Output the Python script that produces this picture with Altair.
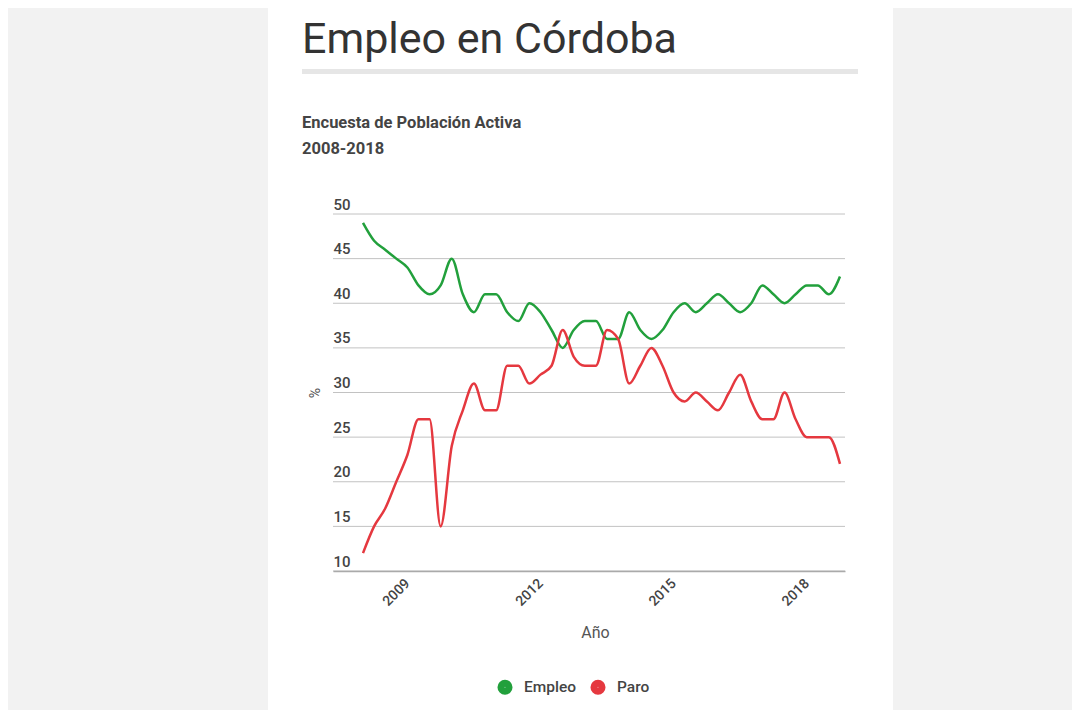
import altair as alt
import pandas as pd

years = list(range(2008, 2019))
quarters = [1, 2, 3, 4]
empleo = [49, 47, 46, 45, 44, 42, 41, 42, 45, 41, 39, 41, 41, 39, 38, 40, 39, 37, 35, 37, 38, 38,
          36, 36, 39, 37, 36, 37, 39, 40, 39, 40, 41, 40, 39, 40, 42, 41, 40, 41, 42, 42, 41, 43]
paro = [12, 15, 17, 20, 23, 27, 27, 15, 24, 28, 31, 28, 28, 33, 33, 31, 32, 33, 37, 34, 33, 33,
        37, 36, 31, 33, 35, 33, 30, 29, 30, 29, 28, 30, 32, 29, 27, 27, 30, 27, 25, 25, 25, 22]
series = ["Empleo", "Paro"]
colors = ["#22a03c", "#e5383f"]
y_ticks = [10, 15, 20, 25, 30, 35, 40, 45, 50]
x_ticks = [2009, 2012, 2015, 2018]

periods = [y + (q - 1) / 4 for y in years for q in quarters]
rows = []
for name, vals in zip(series, [empleo, paro]):
    for p, v in zip(periods, vals):
        rows.append({"periodo": p, "serie": name, "valor": v})
df = pd.DataFrame(rows)

W, H = 512, 357
xscale = alt.Scale(domain=[2007.324, 2018.863], nice=False, zero=False)
yscale = alt.Scale(domain=[10, 50], nice=False, zero=False)

xaxis = alt.Axis(values=x_ticks, format="d", labelAngle=-45, labelAlign="right",
                 labelBaseline="middle", labelPadding=10, ticks=False, grid=False,
                 domain=True, domainColor="#aaaaaa", domainWidth=1.5,
                 labelFont="Roboto", labelFontSize=14, labelFontWeight=500,
                 labelColor="#444444",
                 titleFont="Roboto", titleFontSize=16, titleFontWeight="normal",
                 titleColor="#555555", titlePadding=16, titleX=262, zindex=1)
yaxis = alt.Axis(values=y_ticks, grid=False, domain=False, ticks=False,
                 labelAlign="left", labelBaseline="bottom", labelPadding=0,
                 labelOffset=-2,
                 labelFont="Roboto", labelFontSize=15, labelFontWeight=500,
                 labelColor="#444444",
                 titleX=-18, titleY=H / 2, titleAngle=-90, titleAlign="center",
                 titleBaseline="middle", titleFont="Roboto", titleFontSize=14,
                 titleFontWeight="normal", titleColor="#555555", zindex=1)

one = alt.Data(values=[{}])
card = alt.Chart(one).mark_rect(color="white").encode(
    x=alt.value(-65), x2=alt.value(560), y=alt.value(-214), y2=alt.value(520))
bar = alt.Chart(one).mark_rect(color="#e6e6e6").encode(
    x=alt.value(-31), x2=alt.value(525), y=alt.value(-145), y2=alt.value(-140))

grid = alt.Chart(pd.DataFrame({"v": y_ticks})).mark_rule(color="#c2c2c2", strokeWidth=1).encode(
    y=alt.Y("v:Q", scale=yscale, axis=yaxis, title="%"))

lines = alt.Chart(df).mark_line(interpolate="monotone", strokeWidth=2.5).encode(
    x=alt.X("periodo:Q", scale=xscale, axis=xaxis, title="Año"),
    y=alt.Y("valor:Q", scale=yscale, axis=yaxis, title="%"),
    color=alt.Color("serie:N", scale=alt.Scale(domain=series, range=colors),
                    legend=alt.Legend(orient="none", legendX=164, legendY=465,
                                      direction="horizontal", title=None,
                                      symbolType="circle", symbolSize=50,
                                      symbolStrokeWidth=8, symbolOpacity=1,
                                      labelFont="Roboto", labelFontSize=15.5,
                                      labelColor="#444444", labelFontWeight=500,
                                      columnPadding=1, labelOffset=11)),
)

title = alt.TitleParams(
    text="Empleo en Córdoba",
    subtitle=["Encuesta de Población Activa", "2008-2018"],
    anchor="start", frame="group", dx=-31, offset=-157,
    font="Roboto", fontSize=43, fontWeight="normal", color="#333333",
    subtitleFont="Roboto", subtitleFontSize=16.5, subtitleFontWeight="bold",
    subtitleColor="#444444", subtitleLineHeight=26, subtitlePadding=53,
)

chart = alt.layer(card, bar, grid, lines).properties(
    width=W, height=H, title=title,
    autosize=alt.AutoSizeParams(type="none"),
    padding={"left": 325, "top": 206, "right": 227, "bottom": 139},
    background="#f2f2f2",
).configure_view(stroke=None).configure(font="Roboto")

chart.save("out.html", embed_options={"renderer": "svg", "actions": False})
